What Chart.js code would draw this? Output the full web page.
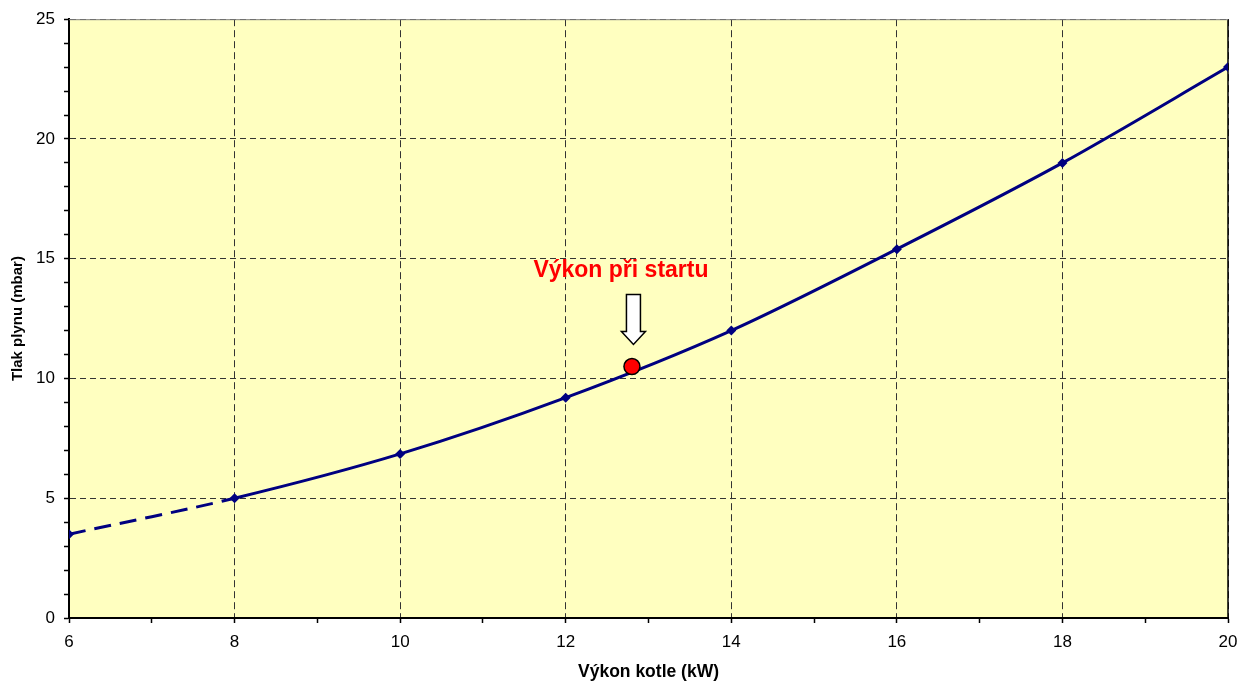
<!DOCTYPE html>
<html>
<head>
<meta charset="utf-8">
<script src="https://cdn.jsdelivr.net/npm/chart.js@4.4.1/dist/chart.umd.min.js"></script>
<style>
  html, body { margin: 0; padding: 0; background: #ffffff; }
  #wrap { width: 1247px; height: 688px; position: relative; }
</style>
</head>
<body>
<div id="wrap"><canvas id="c" width="1247" height="688"></canvas></div>
<script>
// ---- Data ----
const powerKW = [6, 8, 10, 12, 14, 16, 18, 20];
const pressureMbar = [3.5, 5.0, 6.85, 9.2, 12.0, 15.4, 19.0, 23.0];
const startPower = [12.8];
const startPressure = [10.5];
const annotationText = 'Výkon při startu';
const xTitle = 'Výkon kotle (kW)';
const yTitle = 'Tlak plynu (mbar)';
const xLabelStep = 2;   // labelled every 2 kW
const yLabelStep = 5;   // labelled every 5 mbar

const FONT = "'Liberation Sans', Arial, sans-serif";

const mainPoints = powerKW.map((x, i) => ({ x: x, y: pressureMbar[i] }));
const startPoints = startPower.map((x, i) => ({ x: x, y: startPressure[i] }));

const plotBg = {
  id: 'plotBg',
  beforeDraw(chart) {
    const { ctx, chartArea: a } = chart;
    ctx.save();
    ctx.fillStyle = '#FFFFC0';
    ctx.fillRect(a.left, a.top, a.right - a.left, a.bottom - a.top);
    ctx.restore();
  },
  afterDraw(chart) {
    const { ctx, chartArea: a } = chart;
    ctx.save();
    ctx.lineWidth = 1;
    ctx.strokeStyle = '#808080';
    ctx.beginPath();
    ctx.moveTo(a.left, a.top + 0.5);
    ctx.lineTo(a.right, a.top + 0.5);
    ctx.stroke();
    ctx.restore();
  }
};

const borderRight = {
  id: 'borderRight',
  beforeDatasetsDraw(chart) {
    const { ctx, chartArea: a } = chart;
    ctx.save();
    ctx.lineWidth = 1.5;
    ctx.strokeStyle = '#000000';
    ctx.beginPath();
    ctx.moveTo(a.right, a.top);
    ctx.lineTo(a.right, a.bottom);
    ctx.stroke();
    ctx.restore();
  }
};

const startAnnotation = {
  id: 'startAnnotation',
  afterDatasetsDraw(chart) {
    const { ctx, scales } = chart;
    const px = scales.x.getPixelForValue(startPower[0]);
    const py = scales.y.getPixelForValue(startPressure[0]);
    ctx.save();
    // label
    ctx.font = "bold 23px " + FONT;
    ctx.fillStyle = '#FF0000';
    ctx.textAlign = 'center';
    ctx.textBaseline = 'middle';
    ctx.fillText(annotationText, px - 11, py - 96);
    // arrow
    const cx = px + 1.5;
    const shaftHalf = 7, headHalf = 12;
    const top = py - 72, headY = py - 35, tip = py - 22;
    ctx.beginPath();
    ctx.moveTo(cx - shaftHalf, top);
    ctx.lineTo(cx + shaftHalf, top);
    ctx.lineTo(cx + shaftHalf, headY);
    ctx.lineTo(cx + headHalf, headY);
    ctx.lineTo(cx, tip);
    ctx.lineTo(cx - headHalf, headY);
    ctx.lineTo(cx - shaftHalf, headY);
    ctx.closePath();
    ctx.fillStyle = '#FFFFFF';
    ctx.fill();
    ctx.lineWidth = 1.5;
    ctx.strokeStyle = '#000000';
    ctx.stroke();
    ctx.restore();
  }
};

new Chart(document.getElementById('c'), {
  type: 'scatter',
  data: {
    datasets: [
      {
        label: 'Tlak',
        data: mainPoints,
        showLine: true,
        borderColor: '#000080',
        backgroundColor: '#000080',
        borderWidth: 3,
        tension: 0.3,
        pointStyle: 'rectRot',
        pointRadius: 5,
        pointBorderWidth: 0,
        segment: {
          borderDash: ctx => ctx.p0DataIndex === 0 ? [17, 9] : undefined
        },
        order: 2
      },
      {
        label: 'Start',
        data: startPoints,
        showLine: false,
        pointRadius: 8,
        pointBackgroundColor: '#FF0000',
        pointBorderColor: '#000000',
        pointBorderWidth: 1.5,
        order: 1
      }
    ]
  },
  options: {
    responsive: false,
    animation: false,
    layout: { padding: { left: 0, top: 14, right: 19, bottom: 0 } },
    plugins: {
      legend: { display: false },
      tooltip: { enabled: false },
      title: { display: false }
    },
    scales: {
      x: {
        type: 'linear',
        min: 6,
        max: 20,
        afterFit(scale) { scale.height = 70; },
        ticks: {
          stepSize: 1,
          autoSkip: false,
          maxRotation: 0,
          padding: 9,
          color: '#000000',
          font: { family: FONT, size: 17 },
          callback: v => (v % xLabelStep === 0 ? String(v) : '')
        },
        grid: {
          drawOnChartArea: true,
          color: ctx => (ctx.tick && ctx.tick.value % xLabelStep === 0 ? '#333333' : 'rgba(0,0,0,0)'),
          lineWidth: 1,
          tickColor: '#000000',
          tickLength: 5,
          tickWidth: 1.5,
          tickBorderDash: []
        },
        border: { display: true, color: '#000000', width: 2, dash: [7, 4] },
        title: {
          display: true,
          text: xTitle,
          color: '#000000',
          font: { family: FONT, size: 17.5, weight: 'bold' },
          padding: { top: 0, bottom: 5 }
        }
      },
      y: {
        type: 'linear',
        min: 0,
        max: 25,
        afterFit(scale) { scale.width = 69; },
        ticks: {
          stepSize: 1,
          autoSkip: false,
          padding: 9,
          color: '#000000',
          font: { family: FONT, size: 17 },
          callback: v => (v % yLabelStep === 0 ? String(v) : '')
        },
        grid: {
          color: ctx => (ctx.tick && ctx.tick.value % yLabelStep === 0 ? '#333333' : 'rgba(0,0,0,0)'),
          lineWidth: 1,
          tickColor: '#000000',
          tickLength: 5,
          tickWidth: 1.5,
          tickBorderDash: []
        },
        border: { display: true, color: '#000000', width: 2, dash: [6, 4] },
        title: {
          display: true,
          text: yTitle,
          color: '#000000',
          font: { family: FONT, size: 15, weight: 'bold' },
          padding: { top: 9, bottom: 0 }
        }
      }
    }
  },
  plugins: [plotBg, borderRight, startAnnotation]
});
</script>
</body>
</html>
